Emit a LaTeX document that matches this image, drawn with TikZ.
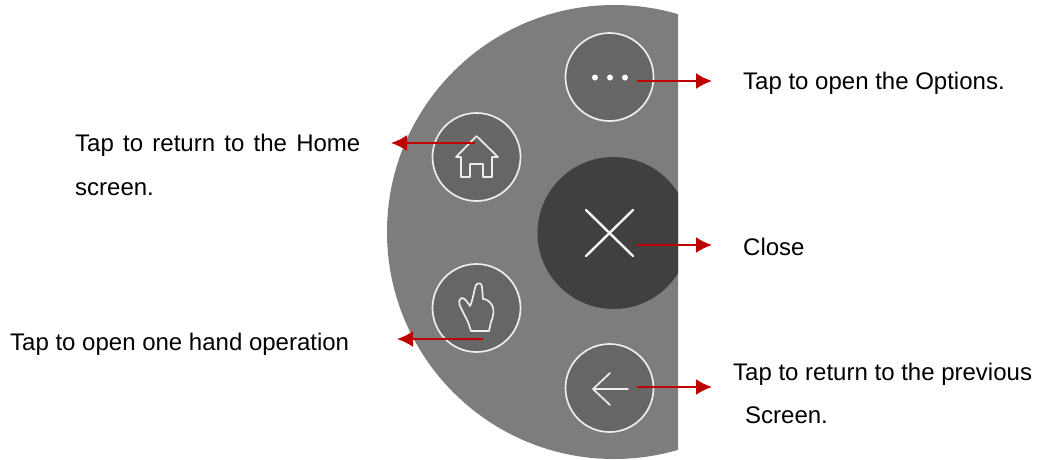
\documentclass[tikz,border=0pt]{standalone}
\usepackage{fontspec}
\setmainfont{Liberation Sans}
\usetikzlibrary{arrows.meta}
\definecolor{panel}{HTML}{7D7D7D}
\definecolor{btn}{HTML}{666666}
\definecolor{closebg}{HTML}{404040}
\definecolor{arrowred}{HTML}{C00000}
\tikzset{
  x=1pt,y=-1pt,
  btncircle/.style={circle,draw=white!93!black,line width=1.7pt,fill=btn,minimum size=88pt,inner sep=0pt},
  closecircle/.style={circle,fill=closebg,minimum size=152pt,inner sep=0pt},
  icon/.style={draw=white!93!black,line width=1.7pt,line cap=round,line join=round},
  callout/.style={draw=arrowred,line width=2.2pt,-{Latex[length=16pt,width=16pt,color=arrowred,sharp]}},
  lbl/.style={anchor=base west,inner sep=0pt,font=\fontsize{24}{28}\selectfont,text=black},
  pt/.style={circle,fill=white,inner sep=0pt,minimum size=6pt}
}
\begin{document}
\begin{tikzpicture}
\useasboundingbox (0,0) rectangle (1037,459);
\begin{scope}
\clip (300,0) rectangle (678,459);
\fill[panel] (614,232) circle (227);
\node[closecircle] (close) at (613.5,233) {};
\end{scope}
\node[btncircle] (opt) at (609.5,77) {};
\node[btncircle] (home) at (476.5,157) {};
\node[btncircle] (hand) at (476.5,308) {};
\node[btncircle] (back) at (609.5,388) {};
% options dots
\node[pt] (d1) at (595,77.5) {};
\node[pt] (d2) at (610,77.5) {};
\node[pt] (d3) at (625,77.5) {};
% home icon
\draw[icon] (456,157) -- (476.5,136) -- (498,157) -- (492,157) -- (492,177) -- (483,177) -- (483,164) -- (470,164) -- (470,177) -- (461,177) -- (461,157) -- cycle;
% X
\draw[icon,line width=2.4pt,draw=white!96!black] (586,210) -- (633,256) (633,210) -- (586,256);
% hand icon
\draw[icon] (471,331) -- (468,322) -- (461,308)
  .. controls (458,303) and (459,299) .. (462,298)
  .. controls (465,298) and (468,303) .. (470,306)
  .. controls (473,300) and (474,290) .. (476,285)
  .. controls (478,282) and (482,283) .. (482,287)
  -- (483,299)
  .. controls (487,299) and (490,302) .. (492,305)
  .. controls (495,309) and (493,318) .. (491,322)
  -- (489,331) -- cycle;
% back arrow
\draw[icon] (628,389) -- (593,389) (610,373) -- (593,389) -- (610,405);
% labels
\node[lbl] (t1) at (743,89) {Tap to open the Options.};
\node[lbl] (t2) at (75,151) {Tap\hspace{2.6pt} to\hspace{2.6pt} return\hspace{2.6pt} to\hspace{2.6pt} the\hspace{2.6pt} Home};
\node[lbl] (t2b) at (75,195) {screen.};
\node[lbl] (t3) at (743,255) {Close};
\node[lbl] (t4) at (10,350) {Tap to open one hand operation};
\node[lbl] (t5) at (733,380) {Tap to return to the previous};
\node[lbl] (t5b) at (745,423) {Screen.};
% arrows
\coordinate (a1s) at (637,81); \coordinate (a1e) at (712,81);
\coordinate (a2s) at (475,143); \coordinate (a2e) at (391,143);
\coordinate (a3s) at (637,245); \coordinate (a3e) at (712,245);
\coordinate (a4s) at (483,339); \coordinate (a4e) at (397,339);
\coordinate (a5s) at (637,387); \coordinate (a5e) at (712,387);
\draw[callout] (a1s) -- (a1e);
\draw[callout] (a2s) -- (a2e);
\draw[callout] (a3s) -- (a3e);
\draw[callout] (a4s) -- (a4e);
\draw[callout] (a5s) -- (a5e);
\end{tikzpicture}
\end{document}
